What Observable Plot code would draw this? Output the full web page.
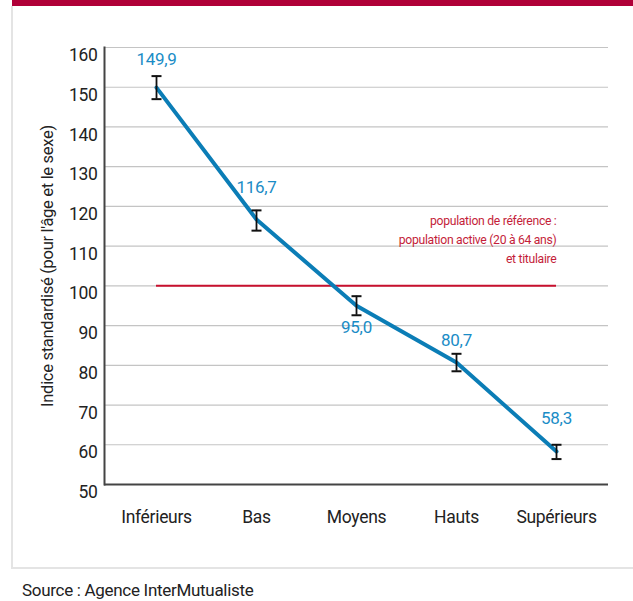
<!DOCTYPE html>
<html><head><meta charset="utf-8">
<script src="https://cdn.jsdelivr.net/npm/d3@7"></script>
<script src="https://cdn.jsdelivr.net/npm/@observablehq/plot@0.6"></script>
<style>
body{margin:0;background:#fff;}
#wrap{position:relative;width:633px;height:601px;overflow:hidden;font-family:Roboto,"Liberation Sans",sans-serif;}
#band{position:absolute;left:12px;top:0;width:621px;height:6px;background:#b00038;}
#vline{position:absolute;left:11px;top:6px;width:2px;height:562px;background:#e4e4e4;}
#hline{position:absolute;left:11px;top:567px;width:622px;height:2px;background:#e4e4e4;}
#chart{position:absolute;left:0;top:0;}
#chart svg text{letter-spacing:-0.3px;}
#source{position:absolute;left:22px;top:580px;font-size:17px;line-height:20px;color:#222;letter-spacing:-0.3px;}
</style></head>
<body><div id="wrap"><div id="band"></div><div id="vline"></div><div id="hline"></div><div id="chart"></div><div id="source"></div></div>
<script>
const categories = ["Inférieurs","Bas","Moyens","Hauts","Supérieurs"];
const values = [149.9,116.7,95.0,80.7,58.3];
const lower = [147.0,113.9,92.6,78.5,56.4];
const upper = [152.8,119.0,97.4,82.9,60.0];
const valueLabels = ["149,9","116,7","95,0","80,7","58,3"];
const yTicks = [50,60,70,80,90,100,110,120,130,140,150,160];
const refValue = 100;
const refNote = "population de référence :\npopulation active (20 à 64 ans)\net titulaire";
const yTitle = "Indice standardisé (pour l'âge et le sexe)";
const sourceText = "Source : Agence InterMutualiste";

const FONT = 'Roboto,"Liberation Sans",sans-serif';
const labelDy = [-28,-32,22,-22,-33];
const capSymbol = {draw(ctx){ ctx.moveTo(-5,0); ctx.lineTo(5,0); }};

const data = categories.map((c,i)=>({cat:c, value:values[i], lo:lower[i], hi:upper[i], label:valueLabels[i]}));

const labelMarks = data.map((d,i)=>Plot.text([d], {x:"cat", y:"value", text:"label", dy:labelDy[i], fontSize:17, fill:"#1a8cc6"}));

const plot = Plot.plot({
  width:633, height:568,
  marginLeft:104, marginRight:25, marginTop:47, marginBottom:84,
  style:{fontFamily:FONT, background:"transparent", color:"#222"},
  x:{type:"point", domain:categories, padding:0.5},
  y:{domain:[50,160]},
  marks:[
    Plot.gridY(yTicks.filter(t=>t>50), {stroke:"#c4c4c4", strokeOpacity:1, strokeWidth:1.2}),
    Plot.axisY(yTicks, {tickSize:0, tickPadding:7, fontSize:17.5, dy:8, label:null, fill:"#222"}),
    Plot.axisX({tickSize:0, tickPadding:26, fontSize:17.5, label:null, fill:"#222"}),
    Plot.ruleY([50], {stroke:"#444", strokeWidth:2}),
    Plot.frame({anchor:"left", stroke:"#444", strokeWidth:2}),
    Plot.ruleY([refValue], {x1:()=>categories[0], x2:()=>categories[categories.length-1], stroke:"#c8102e", strokeWidth:2}),
    Plot.text([refNote], {text:d=>d, x:()=>categories[categories.length-1], y:()=>refValue, textAnchor:"end", lineAnchor:"middle", dy:-48, lineHeight:1.55, fontSize:12.2, fill:"#c41e3a"}),
    Plot.line(data, {x:"cat", y:"value", stroke:"#0b7db6", strokeWidth:4}),
    Plot.ruleX(data, {x:"cat", y1:"lo", y2:"hi", stroke:"#111", strokeWidth:1.8}),
    Plot.dot(data, {x:"cat", y:"lo", symbol:capSymbol, r:5, fill:"none", stroke:"#111", strokeWidth:2}),
    Plot.dot(data, {x:"cat", y:"hi", symbol:capSymbol, r:5, fill:"none", stroke:"#111", strokeWidth:2}),
    ...labelMarks,
    Plot.text([yTitle], {text:d=>d, frameAnchor:"left", textAnchor:"middle", rotate:-90, dx:-57, fontSize:16.5, fill:"#222"})
  ]
});
document.getElementById("chart").appendChild(plot);
document.getElementById("source").textContent = sourceText;
</script>
</body></html>
